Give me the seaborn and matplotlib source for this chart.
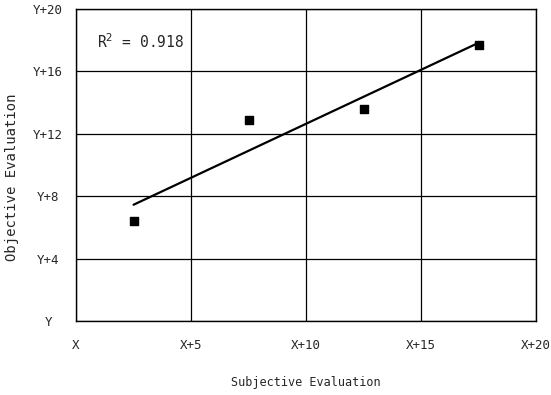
import numpy as np
import pandas as pd
import matplotlib
matplotlib.use("Agg")
import matplotlib.pyplot as plt
import seaborn as sns

# data
subjective = [2.5, 7.5, 12.5, 17.5]
objective = [6.4, 12.9, 13.6, 17.7]
x_ticks = [0, 5, 10, 15, 20]
x_labels = ["X", "X+5", "X+10", "X+15", "X+20"]
y_ticks = [0, 4, 8, 12, 16, 20]
y_labels = ["Y", "Y+4", "Y+8", "Y+12", "Y+16", "Y+20"]
r2_text = "R$^2$ = 0.918"

df = pd.DataFrame({"Subjective": subjective, "Objective": objective})

sns.set_style("white")
plt.rcParams["font.family"] = ["DejaVu Sans Mono", "DejaVu Sans"]
plt.rcParams["mathtext.fontset"] = "dejavusans"

fig = plt.figure(figsize=(5.51, 3.95), dpi=100)
ax = fig.add_axes([0.138, 0.187, 0.835, 0.79])

sns.regplot(data=df, x="Subjective", y="Objective", ax=ax, ci=None,
            marker="s", color="black",
            scatter_kws={"s": 34, "zorder": 4, "alpha": 1},
            line_kws={"lw": 1.6, "zorder": 3})

ax.set_xlim(0, 20)
ax.set_ylim(0, 20)
ax.set_xticks(x_ticks)
ax.set_xticklabels(x_labels)
ax.set_yticks(y_ticks)
ax.set_yticklabels(y_labels)
ax.grid(True, color="black", lw=0.9)
ax.tick_params(axis="both", length=0, labelsize=9)
ax.tick_params(axis="x", pad=13)
ax.tick_params(axis="y", pad=20)
for lab in ax.get_yticklabels():
    lab.set_ha("center")
for sp in ax.spines.values():
    sp.set_color("black")
    sp.set_linewidth(1.0)

ax.set_xlabel("Subjective Evaluation", fontsize=8.5)
ax.xaxis.set_label_coords(0.5, -0.175)
ax.set_ylabel("Objective Evaluation", fontsize=10)
ax.yaxis.set_label_coords(-0.125, 0.46)

ax.text(0.9, 17.9, r2_text, fontsize=10.5, va="center", ha="left")

fig.savefig("out.png", dpi=100)
